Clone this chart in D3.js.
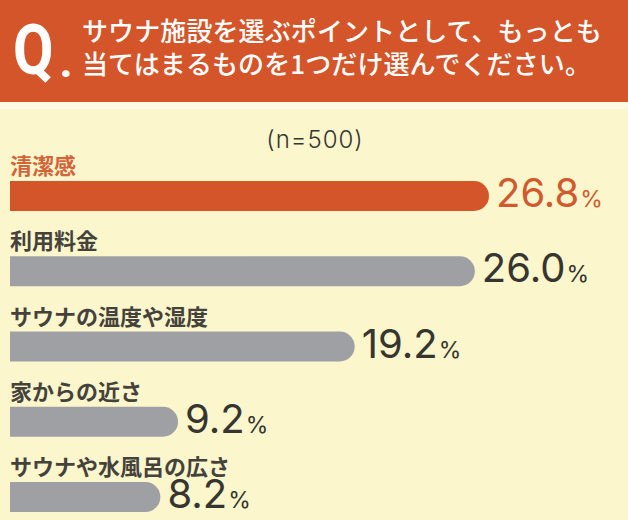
<!DOCTYPE html>
<html><head><meta charset="utf-8">
<script src="https://cdn.jsdelivr.net/npm/d3@7"></script>
<style>
html,body{margin:0;padding:0;background:#fbf6cc;}
svg{display:block;}
</style></head>
<body>
<script>
const titleLines = ["サウナ施設を選ぶポイントとして、もっとも", "当てはまるものを1つだけ選んでください。"];
const sampleNote = "(n=500)";
const categories = ["清潔感", "利用料金", "サウナの温度や湿度", "家からの近さ", "サウナや水風呂の広さ"];
const values = [26.8, 26.0, 19.2, 9.2, 8.2];
const valueLabels = ["26.8", "26.0", "19.2", "9.2", "8.2"];

const W = 628, H = 520;
const orange = "#d4552a", gray = "#9fa0a4", dark = "#37352f", bg = "#fbf6cc";
const jp = "'Noto Sans CJK JP','Noto Sans',sans-serif";

const svg = d3.select("body").append("svg").attr("width", W).attr("height", H);
svg.append("rect").attr("width", W).attr("height", H).attr("fill", bg);

// header
svg.append("rect").attr("x", 0).attr("y", 0).attr("width", W).attr("height", 102).attr("fill", orange);
svg.append("rect").attr("x", 0).attr("y", 102).attr("width", W).attr("height", 7).attr("fill", "#fdf9e2");
svg.append("text").attr("transform", "translate(13,74) scale(0.84,1)")
  .attr("font-family", "Roboto, sans-serif").attr("font-weight", 700).attr("font-size", 70)
  .attr("fill", "#fff").text("Q");
svg.append("text").attr("x", 60).attr("y", 77)
  .attr("font-family", "Roboto, sans-serif").attr("font-weight", 900).attr("font-size", 40)
  .attr("fill", "#fff").text(".");
svg.selectAll("text.title").data(titleLines).join("text").attr("class", "title")
  .attr("x", 82).attr("y", (d, i) => 41 + i * 33)
  .attr("font-family", jp).attr("font-weight", 500).attr("font-size", 26)
  .attr("letter-spacing", 0.1)
  .attr("fill", "#fff").text(d => d);

// note
svg.append("text").attr("x", 315).attr("y", 148).attr("text-anchor", "middle")
  .attr("font-family", "Inter, sans-serif").attr("font-weight", 300).attr("font-size", 24).attr("letter-spacing", 1)
  .attr("fill", dark).text(sampleNote);

// scales
const x = d3.scaleLinear().domain([0, d3.max(values)]).range([15.5, 489]);
const y = d3.scalePoint().domain(categories).range([181, 482]);
const barH = 30, x0 = 10;
const data = categories.map((c, i) => ({ c, v: values[i], lab: valueLabels[i], i }));

function barPath(d) {
  const x1 = x(d.v), top = y(d.c), r = barH / 2;
  return `M${x0},${top}H${x1 - r}A${r},${r} 0 0 1 ${x1 - r},${top + barH}H${x0}Z`;
}

svg.selectAll("path.bar").data(data).join("path").attr("class", "bar")
  .attr("d", barPath).attr("fill", d => d.i === 0 ? orange : gray);

svg.selectAll("text.cat").data(data).join("text").attr("class", "cat")
  .attr("x", 10).attr("y", d => y(d.c) - 7)
  .attr("font-family", jp).attr("font-weight", 700).attr("font-size", 22)
  .attr("fill", d => d.i === 0 ? "#d2643a" : "#45423c").text(d => d.c);

const vt = svg.selectAll("text.val").data(data).join("text").attr("class", "val")
  .attr("x", d => x(d.v) + 7).attr("y", d => y(d.c) + barH - 4)
  .attr("font-family", "Inter, sans-serif").attr("font-weight", 400)
  .attr("fill", d => d.i === 0 ? "#d05a2e" : dark);
vt.append("tspan").attr("font-size", 40).attr("letter-spacing", 0).text(d => d.lab);
vt.append("tspan").attr("font-size", 23).attr("dx", 1).text("%");
</script>
</body></html>
